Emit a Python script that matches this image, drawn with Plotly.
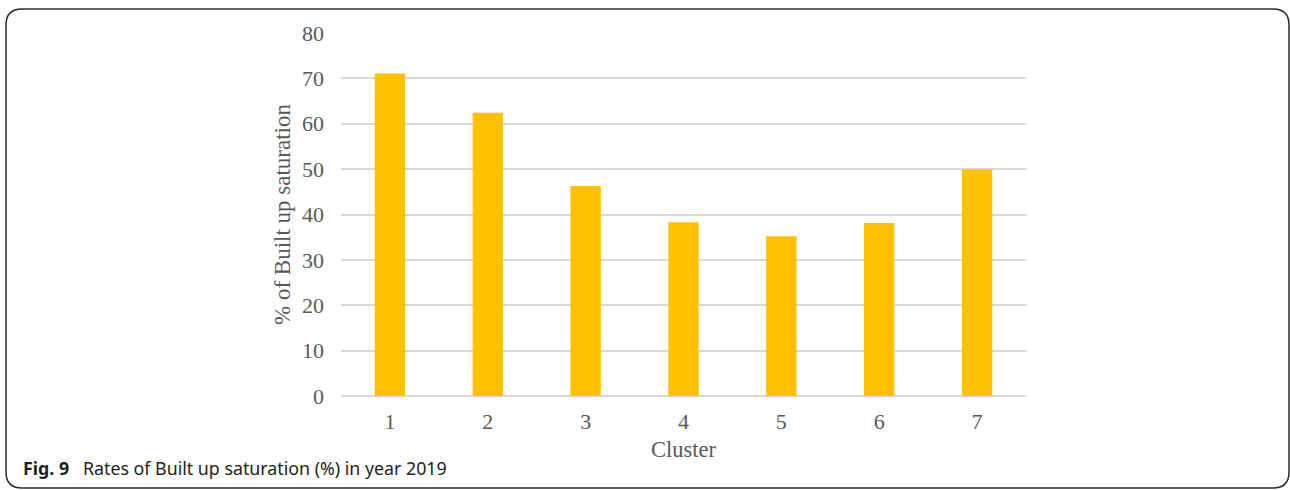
import plotly.graph_objects as go

clusters = ["1", "2", "3", "4", "5", "6", "7"]
saturation = [71.1, 62.4, 46.3, 38.3, 35.2, 38.1, 50.0]
y_ticks = [0, 10, 20, 30, 40, 50, 60, 70, 80]

W, H = 1290, 490
L, R, T, B = 341, 1026, 33, 396

def px(x):
    return (x - L) / (R - L)

def py(y):
    return (B - y) / (B - T)

fig = go.Figure()
fig.add_trace(go.Bar(x=clusters, y=saturation, marker=dict(color="#FFC000", line=dict(width=0)),
                     hoverinfo="x+y"))

# rounded border
x0, x1, y0, y1, r = 6, 1289, 9, 488, 16
rx, ry = r / (R - L), r / (B - T)
X0, X1, Y0, Y1 = px(x0), px(x1), py(y0), py(y1)
path = (f"M {X0+rx},{Y0} L {X1-rx},{Y0} Q {X1},{Y0} {X1},{Y0-ry} "
        f"L {X1},{Y1+ry} Q {X1},{Y1} {X1-rx},{Y1} "
        f"L {X0+rx},{Y1} Q {X0},{Y1} {X0},{Y1+ry} "
        f"L {X0},{Y0-ry} Q {X0},{Y0} {X0+rx},{Y0} Z")

serif = "Liberation Serif, Times New Roman, serif"
fig.update_layout(
    width=W, height=H,
    margin=dict(l=L, r=W - R, t=T, b=H - B, autoexpand=False),
    paper_bgcolor="white", plot_bgcolor="white",
    bargap=0.69,
    showlegend=False,
    font=dict(family=serif, color="#595959", size=22),
    xaxis=dict(
        showgrid=False, showline=False, zeroline=False, ticks="",
        tickfont=dict(family=serif, size=22, color="#595959"),
        ticklabelstandoff=10,
    ),
    yaxis=dict(
        title=dict(text="% of Built up saturation", standoff=4, font=dict(family=serif, size=23, color="#595959")),
        range=[0, 80], tickvals=y_ticks, ticks="",
        showgrid=True, gridcolor="#D9D9D9", gridwidth=1.5,
        zeroline=True, zerolinecolor="#D9D9D9", zerolinewidth=1.5,
        showline=False,
        tickfont=dict(family=serif, size=22, color="#595959"),
        ticklabelstandoff=16,
    ),
    shapes=[dict(type="path", xref="paper", yref="paper", path=path,
                 line=dict(color="#2B2B2B", width=1.5), fillcolor="rgba(0,0,0,0)", layer="above")],
    annotations=[
        dict(
            xref="paper", yref="paper", x=0.5, y=py(449), xanchor="center", yanchor="middle",
            showarrow=False, text="Cluster",
            font=dict(family=serif, size=22.5, color="#595959"),
        ),
        dict(
            xref="paper", yref="paper", x=px(21), y=py(468), xanchor="left", yanchor="middle",
            showarrow=False,
            text="<b>Fig. 9</b>&nbsp;&nbsp;&nbsp;Rates of Built up saturation (%) in year 2019",
            font=dict(family="Noto Sans, Open Sans, sans-serif", size=17.8, color="#231F20"),
        ),
    ],
)

fig.write_html(
    "out.html",
    config={"displayModeBar": False},
    post_script="document.body.style.margin='0';document.body.style.padding='0';"
                "document.body.style.overflow='hidden';",
)
